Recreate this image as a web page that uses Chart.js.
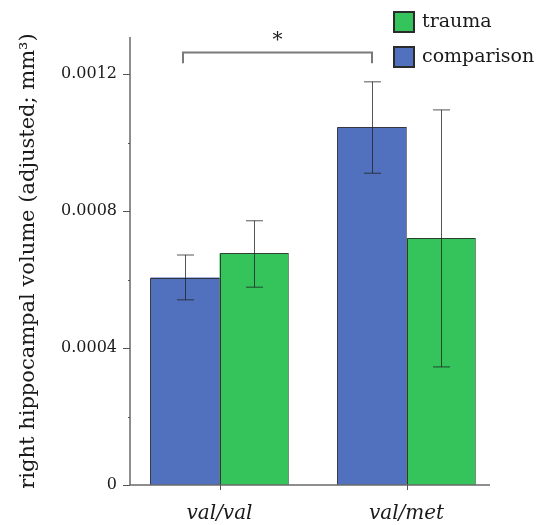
<!DOCTYPE html>
<html>
<head>
<meta charset="utf-8">
<script src="https://cdn.jsdelivr.net/npm/chart.js@4"></script>
<style>
html,body{margin:0;padding:0;background:#fff;}
#wrap{width:544px;height:525px;position:relative;}
</style>
</head>
<body>
<div id="wrap"><canvas id="c" width="544" height="525"></canvas></div>
<script>
// ---- data ----
const categories = ['val/val', 'val/met'];
const seriesNames = ['comparison', 'trauma'];
const comparisonValues = [0.000606, 0.001045];
const traumaValues = [0.000677, 0.000722];
const comparisonErrLow = [0.000541, 0.000911];
const comparisonErrHigh = [0.000672, 0.001178];
const traumaErrLow = [0.000578, 0.000345];
const traumaErrHigh = [0.000772, 0.001096];
const yTickValues = [0, 0.0004, 0.0008, 0.0012];
const yMinorTickValues = [0.0002, 0.0006, 0.0010];
const yMax = 0.001309;
const sigBracket = {from: 0, to: 1, y: 0.001264, drop: 0.000032, label: '*'};

const BLUE = '#5171BE';
const GREEN = '#35C45C';
const FONT = '"DejaVu Serif", "Liberation Serif", serif';

const errors = [
  {low: comparisonErrLow, high: comparisonErrHigh},
  {low: traumaErrLow, high: traumaErrHigh}
];

const AXIS_X = 130, AXIS_RIGHT = 490;

const overlay = {
  id: 'overlay',
  afterDatasetsDraw(chart) {
    const ctx = chart.ctx;
    const y = chart.scales.y;
    const area = chart.chartArea;
    ctx.save();

    // bar outlines (crisp)
    chart.data.datasets.forEach((ds, di) => {
      const meta = chart.getDatasetMeta(di);
      meta.data.forEach(bar => {
        const l = Math.round(bar.x - bar.width / 2) + 0.5;
        const r = Math.round(bar.x + bar.width / 2) - 0.5;
        const t = Math.round(bar.y) + 0.5;
        const b = Math.round(bar.base);
        ctx.lineWidth = 1;
        ctx.strokeStyle = 'rgba(40,40,40,0.85)';
        ctx.beginPath();
        ctx.moveTo(l, b); ctx.lineTo(l, t); ctx.lineTo(r, t);
        ctx.stroke();
        ctx.strokeStyle = 'rgba(90,90,90,0.6)';
        ctx.beginPath();
        ctx.moveTo(r, t); ctx.lineTo(r, b);
        ctx.stroke();
      });
    });

    // axes
    ctx.strokeStyle = '#6a6a6a';
    ctx.lineWidth = 1.5;
    ctx.beginPath();
    ctx.moveTo(AXIS_X, area.top);
    ctx.lineTo(AXIS_X, area.bottom);
    ctx.lineTo(AXIS_RIGHT, area.bottom);
    ctx.stroke();
    ctx.lineWidth = 1;
    ctx.strokeStyle = '#555';
    ctx.beginPath();
    yTickValues.forEach(v => {
      const py = Math.round(y.getPixelForValue(v)) + 0.5;
      ctx.moveTo(AXIS_X - 7, py); ctx.lineTo(AXIS_X, py);
    });
    yMinorTickValues.forEach(v => {
      const py = Math.round(y.getPixelForValue(v)) + 0.5;
      ctx.moveTo(AXIS_X - 2, py); ctx.lineTo(AXIS_X, py);
    });
    // x ticks at category centers
    const xs = chart.scales.x;
    categories.forEach((c, i) => {
      const px = Math.round(xs.getPixelForValue(i)) + 0.5;
      ctx.moveTo(px, area.bottom); ctx.lineTo(px, area.bottom + 5);
    });
    ctx.stroke();

    // error bars
    ctx.strokeStyle = 'rgba(30,30,30,0.75)';
    ctx.lineWidth = 1;
    chart.data.datasets.forEach((ds, di) => {
      const meta = chart.getDatasetMeta(di);
      meta.data.forEach((bar, i) => {
        const x = Math.round(bar.x) + 0.5;
        const yl = y.getPixelForValue(errors[di].low[i]);
        const yh = y.getPixelForValue(errors[di].high[i]);
        ctx.beginPath();
        ctx.moveTo(x, yl); ctx.lineTo(x, yh);
        ctx.moveTo(x - 8.5, yl); ctx.lineTo(x + 8.5, yl);
        ctx.moveTo(x - 8.5, yh); ctx.lineTo(x + 8.5, yh);
        ctx.stroke();
      });
    });

    // significance bracket between comparison bars
    const m0 = chart.getDatasetMeta(0);
    const bx1 = m0.data[sigBracket.from].x - 2;
    const bx2 = m0.data[sigBracket.to].x;
    const by = y.getPixelForValue(sigBracket.y);
    const byd = y.getPixelForValue(sigBracket.y - sigBracket.drop);
    ctx.strokeStyle = '#7a7a7a';
    ctx.lineWidth = 2;
    ctx.beginPath();
    ctx.moveTo(bx1, byd); ctx.lineTo(bx1, by); ctx.lineTo(bx2, by); ctx.lineTo(bx2, byd);
    ctx.stroke();
    ctx.fillStyle = '#222';
    ctx.font = '20px ' + FONT;
    ctx.textAlign = 'center';
    ctx.textBaseline = 'alphabetic';
    ctx.fillText(sigBracket.label, (bx1 + bx2) / 2, by - 6);

    // legend (reversed order)
    const items = chart.data.datasets.map(d => ({label: d.label, color: d.backgroundColor})).reverse();
    ctx.font = '19px ' + FONT;
    ctx.textAlign = 'left';
    ctx.textBaseline = 'middle';
    items.forEach((it, k) => {
      const cy = 22 + k * 35;
      ctx.fillStyle = it.color;
      ctx.fillRect(394, cy - 10, 20, 20);
      ctx.strokeStyle = '#2b2b2b';
      ctx.lineWidth = 2;
      ctx.strokeRect(394, cy - 10, 20, 20);
      ctx.fillStyle = '#1a1a1a';
      ctx.fillText(it.label, 422, cy);
    });
    ctx.restore();
  }
};

new Chart(document.getElementById('c'), {
  type: 'bar',
  data: {
    labels: categories,
    datasets: [
      {label: seriesNames[0], data: comparisonValues, backgroundColor: BLUE, borderWidth: 0, inflateAmount: 0},
      {label: seriesNames[1], data: traumaValues, backgroundColor: GREEN, borderWidth: 0, inflateAmount: 0}
    ]
  },
  options: {
    responsive: false,
    animation: false,
    layout: {padding: {top: 37, right: 44, left: 0, bottom: 0}},
    datasets: {bar: {barPercentage: 1, categoryPercentage: 0.738}},
    plugins: {legend: {display: false}, tooltip: {enabled: false}},
    scales: {
      x: {
        grid: {display: false, drawTicks: false},
        border: {display: false},
        ticks: {font: {family: FONT, size: 20, style: 'italic'}, color: '#1a1a1a', padding: 17},
        afterFit(s) { s.height = 40; }
      },
      y: {
        min: 0, max: yMax,
        grid: {display: false, drawTicks: false},
        border: {display: false},
        afterBuildTicks(s) { s.ticks = yTickValues.map(v => ({value: v})); },
        ticks: {
          font: {family: FONT, size: 16}, color: '#1a1a1a', padding: 9,
          callback: v => v === 0 ? '0' : v.toFixed(4)
        },
        title: {display: true, text: 'right hippocampal volume (adjusted; mm³)', font: {family: FONT, size: 21}, color: '#1a1a1a', padding: {top: 16, bottom: 0}},
        afterFit(s) { s.width = 126; }
      }
    }
  },
  plugins: [overlay]
});
</script>
</body>
</html>
